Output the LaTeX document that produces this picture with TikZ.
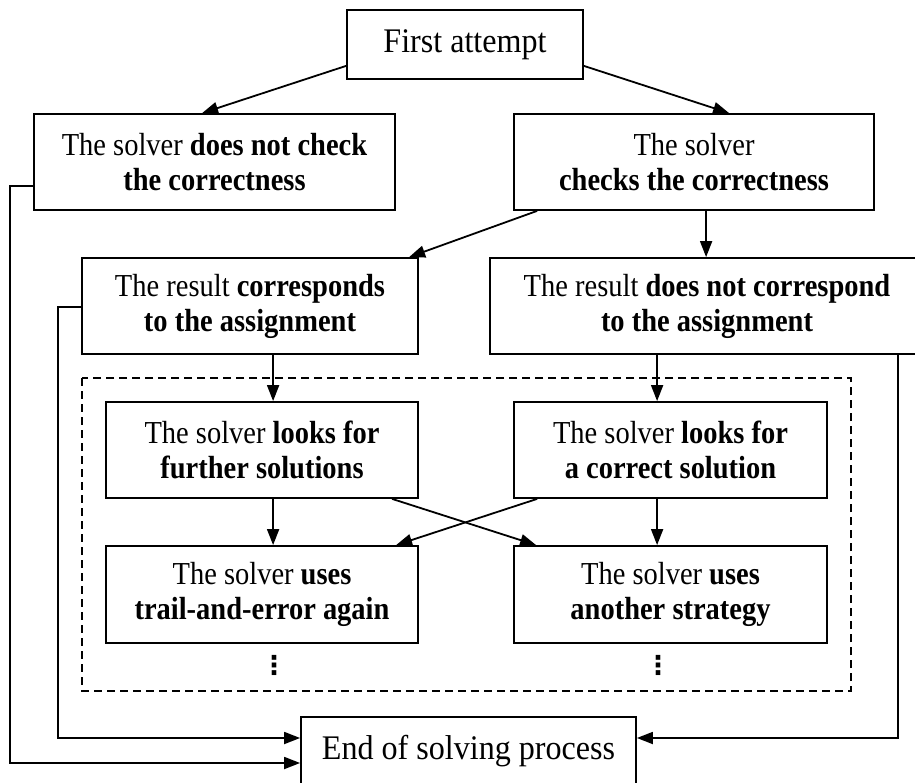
\documentclass[tikz,border=0pt]{standalone}
\usepackage{fontspec}
\setmainfont{Liberation Serif}
% narrower set of the same face for the two-line boxes
\newfontfamily\boxface{Liberation Serif}[FakeStretch=0.89]
\newfontfamily\endface{Liberation Serif}[FakeStretch=0.93]
\newfontfamily\symface{DejaVu Sans}
\usetikzlibrary{arrows.meta,calc}

\begin{document}
\begin{tikzpicture}[x=1pt,y=-1pt,
  box/.style={draw,line width=1.8pt,align=center,inner sep=0pt,
    font=\boxface\fontsize{32}{35}\selectfont},
  bigbox/.style={box,font=\endface\fontsize{34.5}{36}\selectfont},
  conn/.style={line width=1.8pt,-{Triangle[length=16pt,width=12pt]}},
  frame/.style={line width=1.4pt,dash pattern=on 8pt off 5pt},
  dotsnode/.style={inner sep=0pt,font=\symface\bfseries\fontsize{26}{26}\selectfont}]
\useasboundingbox (0,0) rectangle (915,783);
\clip (0,0) rectangle (915,783);

% boxes
\node[bigbox,minimum width=236pt,minimum height=69pt] (first) at (465,44.5) {First attempt};
\node[box,minimum width=361pt,minimum height=96pt] (nocheck) at (214.5,162)
  {The solver \textbf{does not check}\\\textbf{the correctness}};
\node[box,minimum width=360pt,minimum height=96pt] (check) at (694,162)
  {The solver\\\textbf{checks the correctness}};
\node[box,minimum width=336pt,minimum height=96pt] (corr) at (250,306)
  {The result \textbf{corresponds}\\\textbf{to the assignment}};
\node[box,minimum width=434pt,minimum height=96pt] (notcorr) at (707,306)
  {The result \textbf{does not correspond}\\\textbf{to the assignment}};
\node[box,minimum width=312pt,minimum height=96pt] (further) at (262,450)
  {The solver \textbf{looks for}\\\textbf{further solutions}};
\node[box,minimum width=313pt,minimum height=96pt] (correct) at (670.5,450)
  {The solver \textbf{looks for}\\\textbf{a correct solution}};
\node[box,minimum width=312pt,minimum height=97pt] (trail) at (262,594.5)
  {The solver \textbf{uses}\\\textbf{trail-and-error again}};
\node[box,minimum width=313pt,minimum height=97pt] (another) at (670.5,594.5)
  {The solver \textbf{uses}\\\textbf{another strategy}};
\node[bigbox,minimum width=335pt,minimum height=69pt] (end) at (468.5,751.5)
  {End of solving process};

% dashed frame around the search phase
\draw[frame] (82,378) rectangle (851,691);

% continuation marks
\node[dotsnode] (dl) at (274,665) {⋮};
\node[dotsnode] (dr) at (658,665) {⋮};

% corner points of the return lines
\coordinate (la) at (10,186);
\coordinate (lb) at (58,307);
\coordinate (ra) at (898,354);

% connectors
\draw[conn] ([yshift=14pt]first.south west) -- ([xshift=169pt]nocheck.north west);
\draw[conn] ([yshift=14pt]first.south east) -- ([xshift=216pt]check.north west);
\draw[conn] ([xshift=24pt]check.south west) -- ([xshift=328pt]corr.north west);
\draw[conn] ([xshift=193pt]check.south west) -- ([xshift=217pt]notcorr.north west);
\draw[conn] ([xshift=192pt]corr.south west) -- ([xshift=168pt]further.north west);
\draw[conn] ([xshift=168pt]notcorr.south west) -- ([xshift=144pt]correct.north west);
\draw[conn] ([xshift=168pt]further.south west) -- ([xshift=168pt]trail.north west);
\draw[conn] ([xshift=144pt]correct.south west) -- ([xshift=144pt]another.north west);
\draw[conn] ([xshift=287pt]further.south west) -- ([xshift=23pt]another.north west);
\draw[conn] ([xshift=24pt]correct.south west) -- ([xshift=291pt]trail.north west);

\draw[conn] (nocheck.west |- la) -- (la) -- (la |- 0,763) -- (end.west |- 0,763);
\draw[conn] (corr.west |- lb) -- (lb) -- (lb |- 0,738) -- (end.west |- 0,738);
\draw[conn] (notcorr.south -| ra) -- (ra |- 0,738) -- (end.east |- 0,738);
\end{tikzpicture}
\end{document}
